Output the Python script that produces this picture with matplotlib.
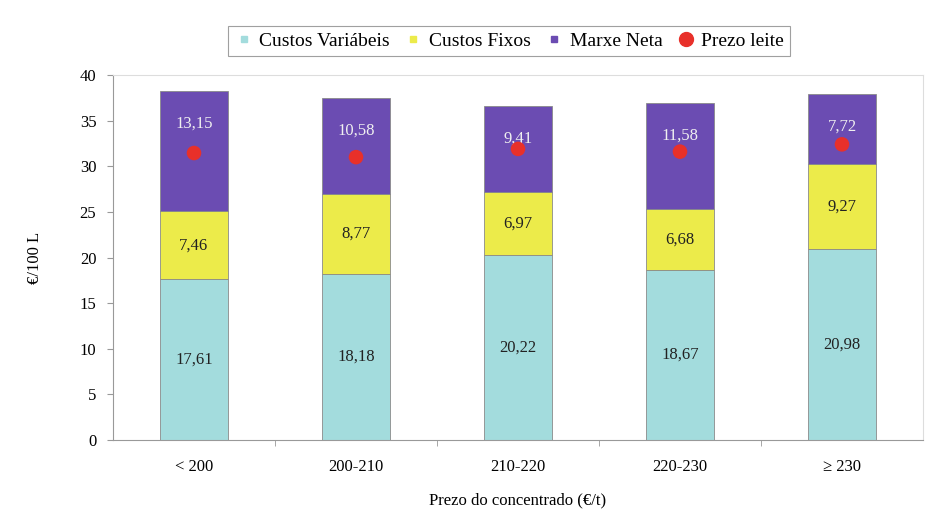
import matplotlib
matplotlib.use("Agg")
import matplotlib.pyplot as plt
from matplotlib.lines import Line2D
import numpy as np

categories = ["< 200", "200-210", "210-220", "220-230", "≥ 230"]
custos_variabeis = [17.61, 18.18, 20.22, 18.67, 20.98]
custos_fixos = [7.46, 8.77, 6.97, 6.68, 9.27]
marxe_neta = [13.15, 10.58, 9.41, 11.58, 7.72]
prezo_leite = [31.45, 31.0, 31.9, 31.6, 32.4]

plt.rcParams['font.family'] = ['Liberation Serif', 'DejaVu Serif']

c_var = "#A3DCDD"
c_fix = "#ECEB4A"
c_mar = "#6B4CB2"
c_red = "#E8302A"

fig = plt.figure(figsize=(9.25, 5.26), dpi=100)
ax = fig.add_axes([113/925, 1-440/526, (923-113)/925, (440-75)/526])

x = np.arange(len(categories))
w = 0.42
edge = "#8a8a8a"
ax.bar(x, custos_variabeis, w, color=c_var, edgecolor=edge, linewidth=0.6)
ax.bar(x, custos_fixos, w, bottom=custos_variabeis, color=c_fix, edgecolor=edge, linewidth=0.6)
b2 = np.array(custos_variabeis) + np.array(custos_fixos)
ax.bar(x, marxe_neta, w, bottom=b2, color=c_mar, edgecolor=edge, linewidth=0.6)
tops = b2 + np.array(marxe_neta)
ax.scatter(x, prezo_leite, s=110, color=c_red, zorder=5, edgecolors='none')

def fmt(v):
    return f"{v:.2f}".replace(".", ",")

for i in range(len(x)):
    ax.text(x[i], custos_variabeis[i]/2, fmt(custos_variabeis[i]), ha='center', va='center', fontsize=12, color='#222222')
    ax.text(x[i], custos_variabeis[i] + custos_fixos[i]/2, fmt(custos_fixos[i]), ha='center', va='center', fontsize=12, color='#222222')
    ax.text(x[i], tops[i] - 3.6, fmt(marxe_neta[i]), ha='center', va='center', fontsize=12, color='#f0f0f0')

ax.set_xlim(-0.5, len(categories) - 0.5)
ax.set_ylim(0, 40)
ax.set_yticks(np.arange(0, 41, 5))
ax.set_xticks(x)
ax.set_xticklabels(categories)
ax.set_xticks(np.arange(0.5, len(categories) - 1, 1), minor=True)
ax.tick_params(axis='x', which='major', length=0, labelsize=12, pad=14)
ax.tick_params(axis='x', which='minor', length=4, color='#999999')
ax.tick_params(axis='y', length=4, color='#999999', labelsize=12, pad=8)
for s in ['top', 'right']:
    ax.spines[s].set_color('#dddddd')
    ax.spines[s].set_linewidth(0.8)
for s in ['left', 'bottom']:
    ax.spines[s].set_color('#999999')
    ax.spines[s].set_linewidth(0.8)

ax.set_ylabel("€/100 L", fontsize=12, labelpad=26)
ax.set_xlabel("Prezo do concentrado (€/t)", fontsize=12, labelpad=12)

handles = [
    Line2D([], [], marker='s', linestyle='none', markersize=4, color=c_var),
    Line2D([], [], marker='s', linestyle='none', markersize=4, color=c_fix),
    Line2D([], [], marker='s', linestyle='none', markersize=4, color=c_mar),
    Line2D([], [], marker='o', linestyle='none', markersize=10, color=c_red),
]
leg = fig.legend(handles, ["Custos Variábeis", "Custos Fixos", "Marxe Neta", "Prezo leite"],
                 loc='center', bbox_to_anchor=(509/925, 1-41/526), ncol=4, fontsize=14,
                 frameon=True, fancybox=False, edgecolor='#888888', handletextpad=0.3,
                 columnspacing=0.7, borderpad=0.3, handlelength=1.0)
leg.get_frame().set_linewidth(0.8)

fig.savefig("out.png", dpi=100)
